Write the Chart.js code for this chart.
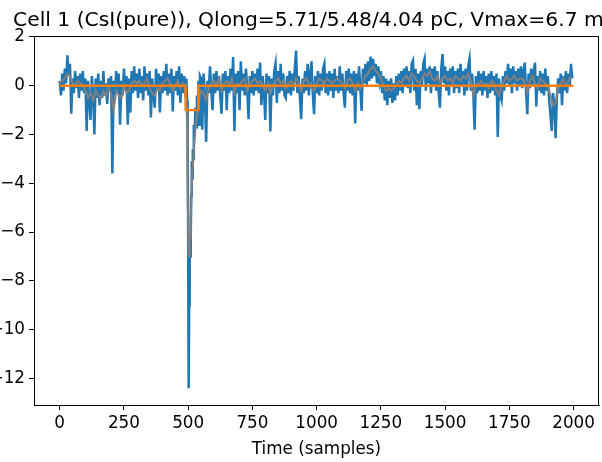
<!DOCTYPE html>
<html>
<head>
<meta charset="utf-8">
<script src="https://cdn.jsdelivr.net/npm/chart.js@4.4.1/dist/chart.umd.min.js"></script>
<style>
  html, body { margin: 0; padding: 0; background: #fff; }
  #wrap { width: 602px; height: 462px; position: relative; }
</style>
</head>
<body>
<div id="wrap"><canvas id="c" width="602" height="462"></canvas></div>
<script>
const titleText = 'Cell 1 (CsI(pure)), Qlong=5.71/5.48/4.04 pC, Vmax=6.7 mV';
const xAxisLabel = 'Time (samples)';
const xTickValues = [0, 250, 500, 750, 1000, 1250, 1500, 1750, 2000];
const yTickValues = [-12, -10, -8, -6, -4, -2, 0, 2];

// raw trace, one value every 5 samples (0 .. 1995); pulse region kept separately
const rawStep = 5;
const rawTrace = [
  0.2, -0.4, 0.5, -0.2, 0.7, 0.1, 1.25, 0.4, 0.9, -1.15,
  0.3, -0.3, 0.6, -0.1, 0.4, -0.5, 0.5, -0.2, 0.6, -0.3,
  0.3, -1.85, 0.2, -0.6, -1.4, 0.4, -0.3, -2.0, 0.3, -0.5,
  0.5, -0.8, 0.2, -0.5, 0.6, -0.4, 0.1, -0.75, 0.3, -0.2,
  0.4, -3.6, 0.2, -0.4, 0.6, -0.3, 0.5, -1.6, 0.2, -0.4,
  0.7, -0.2, 0.4, -1.6, 0.3, -1.1, 0.6, -0.3, 0.8, -0.2,
  0.5, -0.5, 0.7, -0.3, 0.4, -0.6, 0.8, -0.2, 0.5, -0.4,
  0.6, -1.3, 0.3, -0.4, -0.9, 0.7, -0.2, 0.5, -1.1, 0.4,
  -0.3, 0.6, -0.2, 0.9, -0.4, 0.5, -0.3, 0.7, -1.05, 0.4,
  -0.2, 0.6, -0.4, 0.8, -0.7, 0.5, -0.3, 0.4, -0.5, null,
  null, null, null, null, null, null, null, null, null, null,
  0.3, -1.8, 0.5, -0.4, -2.3, 0.2, -0.3, 0.8, -0.2, -1.0,
  0.5, -0.3, 0.6, -0.2, 0.4, -0.4, -1.15, 0.5, -0.2, 0.6,
  -1.0, 0.4, -0.3, 0.7, -0.2, 1.18, -1.85, 0.5, -0.3, 0.6,
  -1.0, 1.0, -0.2, 0.5, -0.4, 0.7, -0.2, -1.37, 0.4, -0.3,
  0.6, -0.4, 0.5, -0.2, 0.7, -0.3, 0.95, -0.8, 0.4, -0.2,
  -1.4, 0.5, -0.3, 0.4, -1.87, 0.3, -0.4, 0.6, 0.9, -0.7,
  0.6, -0.3, 0.9, -0.2, 0.5, -0.4, -0.5, 0.4, -0.3, 0.6,
  -0.4, 0.5, -0.2, 0.7, 1.44, -0.3, 0.4, -0.5, -1.37, 0.3,
  -0.3, 0.6, -0.2, 0.9, -0.4, 0.5, 1.0, -0.3, -1.17, 0.4,
  -0.3, 0.6, -0.4, 0.5, -0.2, 0.7, 0.9, -0.3, 0.5, -0.4,
  0.6, -0.2, 0.5, -0.5, 0.7, -0.2, 0.4, -0.3, 0.8, -0.2,
  0.5, -0.3, -0.9, 0.6, -0.2, 0.7, -0.3, 0.5, -0.4, 0.6,
  -1.55, 0.5, -0.2, 0.8, -0.1, -1.03, 0.7, 0.1, 0.9, 0.0,
  1.0, 0.2, 1.2, 0.3, 1.1, 0.4, 0.9, 0.1, 0.8, 0.2,
  0.6, -0.3, 0.4, -0.6, 0.3, -0.8, 0.2, -0.5, 0.3, -0.7,
  0.1, -0.6, 0.4, -0.4, 0.5, -0.2, 0.6, -0.3, 0.7, 0.0,
  0.8, -0.1, 0.6, -0.3, 0.9, 1.03, -0.2, 0.7, -0.8, 0.5,
  -0.96, 0.6, 0.0, 0.9, 1.1, -0.2, 0.7, 0.1, 0.8, -0.3,
  0.7, 0.0, 0.8, -0.2, 0.6, -0.3, -0.9, 0.7, 1.3, 0.1,
  0.8, -0.2, 0.6, -0.4, 0.7, 0.0, 0.8, -0.3, 0.6, -0.1,
  0.7, -0.3, 0.9, 0.0, 0.6, -0.4, 0.7, -0.2, 0.8, 1.1,
  -0.2, 0.5, -0.4, -1.8, 0.4, -0.3, 0.6, -0.2, 0.5, -0.4,
  0.6, -0.2, 0.4, -0.5, 0.5, -0.3, 0.6, -0.2, 0.4, -0.4,
  0.5, -2.1, 0.3, -0.4, -0.6, 0.4, -0.2, 0.6, 0.1, 0.9,
  0.0, 0.7, -0.3, 0.8, 0.1, 0.6, -0.2, 0.7, 0.0, 0.8,
  -0.1, 0.6, 0.95, -0.2, -1.17, 0.5, -0.1, 0.7, 0.0, 0.6,
  0.95, -0.85, 0.4, -0.2, 0.6, -0.3, 0.5, -0.4, 0.7, -0.2,
  0.4, -0.6, -1.2, -1.85, -0.3, -0.8, -2.15, -0.5, 0.3, -0.3,
  0.5, -0.8, 0.4, -0.2, 0.6, -0.3, 0.5, 0.0, 0.9, 0.3
];

// finer sampling of the raw trace across the pulse
const pulseSamples = [493, 496, 498, 500, 502, 504, 506, 508, 510, 512, 514, 516, 518, 520, 522, 525, 528, 531, 534, 537, 540, 543, 546];
const pulseTrace   = [0.3, -0.6, -1.8, -6.5, -12.4, -9.0, -6.6, -7.0, -6.2, -4.5, -3.1, -3.8, -2.6, -3.0, -1.6, -2.1, -0.9, -1.7, -0.4, -1.5, 0.2, -1.6, 0.4];

// smoothed trace, one value every 10 samples (0 .. 1990)
const smoothStep = 10;
const smoothTrace = [
  0.1, 0.2, 0.3, 0.5, 0.4, 0.1, 0.0, 0.2, 0.1, 0.0,
  -0.2, -0.5, -0.3, -0.6, -0.2, -0.4, -0.5, -0.2, -0.4, -0.1,
  -0.3, -1.0, -0.2, -0.4, -0.5, 0.0, -0.3, -0.2, 0.1, 0.2,
  0.1, 0.2, 0.0, 0.1, 0.3, -0.1, -0.3, -0.4, -0.1, -0.2,
  0.1, 0.2, 0.3, 0.1, -0.2, 0.0, 0.2, -0.1, 0.1, null,
  null, null, null, null, null, null, -0.3, -0.6, -0.1, 0.1,
  0.2, 0.0, 0.3, -0.2, 0.1, 0.2, 0.0, 0.3, -0.3, 0.1,
  0.0, 0.2, 0.3, -0.2, 0.1, 0.2, 0.3, 0.1, 0.2, 0.0,
  -0.2, 0.1, -0.3, 0.0, 0.2, 0.3, 0.1, 0.2, -0.1, 0.1,
  0.2, 0.0, 0.3, 0.1, -0.2, 0.2, 0.3, 0.1, -0.1, -0.2,
  0.1, 0.3, 0.2, 0.1, 0.3, 0.2, 0.1, 0.2, 0.3, 0.2,
  0.1, -0.1, 0.2, 0.3, 0.1, -0.2, 0.1, -0.1, 0.2, 0.4,
  0.5, 0.7, 0.8, 0.6, 0.5, 0.3, 0.0, -0.2, -0.1, -0.2,
  -0.1, 0.0, 0.2, 0.1, 0.3, 0.4, 0.2, 0.5, 0.4, 0.2,
  0.1, 0.3, 0.5, 0.4, 0.6, 0.3, 0.2, 0.4, 0.1, 0.3,
  0.4, 0.2, 0.3, 0.1, 0.4, 0.3, 0.2, 0.4, 0.3, 0.5,
  0.2, -0.4, 0.0, 0.1, 0.2, 0.0, 0.1, -0.1, 0.2, 0.1,
  -0.2, -0.4, 0.0, 0.2, 0.4, 0.2, 0.3, 0.4, 0.2, 0.3,
  0.3, 0.1, -0.3, 0.2, 0.4, 0.1, -0.1, 0.3, 0.2, 0.1,
  0.0, -0.4, -0.8, -0.7, -0.1, 0.1, 0.3, 0.0, 0.2, 0.4
];
const smoothPulseSamples = [486, 490, 493, 496, 498, 500, 502, 504, 506, 508, 510, 513, 516, 520, 524, 528, 532, 536, 540, 545, 550];
const smoothPulseTrace   = [0.0, -0.2, -0.6, -1.6, -4.0, -6.0, -6.9, -7.0, -6.6, -6.2, -5.5, -4.4, -3.6, -3.0, -2.4, -1.8, -1.4, -1.1, -0.8, -0.5, -0.2];

// baseline step fit
const fitSamples = [0, 489, 490, 539, 540, 1999];
const fitLevels  = [0, 0, -1, -1, 0, 0];

function mergeTrace(values, step, detailX, detailY) {
  const lo = detailX[0], hi = detailX[detailX.length - 1];
  const pts = [];
  values.forEach((v, i) => {
    const x = i * step;
    if (v !== null && (x < lo || x > hi)) pts.push({ x: x, y: v });
  });
  detailX.forEach((x, i) => pts.push({ x: x, y: detailY[i] }));
  pts.sort((a, b) => a.x - b.x);
  return pts;
}

const rawPoints = mergeTrace(rawTrace, rawStep, pulseSamples, pulseTrace);
const smoothPoints = mergeTrace(smoothTrace, smoothStep, smoothPulseSamples, smoothPulseTrace);
const fitPoints = fitSamples.map((x, i) => ({ x: x, y: fitLevels[i] }));

const FONT = 'DejaVu Sans';
const TICK_SIZE = 16.8;

const framePlugin = {
  id: 'frame',
  afterDraw(chart) {
    const { ctx, chartArea: a } = chart;
    ctx.save();
    ctx.strokeStyle = '#000';
    ctx.lineWidth = 1;
    ctx.strokeRect(Math.round(a.left) + 0.5, Math.round(a.top) + 0.5,
                   Math.round(a.right - a.left) - 1, Math.round(a.bottom - a.top));
    // title
    ctx.fillStyle = '#000';
    ctx.font = '20.3px "' + FONT + '"';
    ctx.textAlign = 'left';
    ctx.textBaseline = 'alphabetic';
    ctx.fillText(titleText, 13, 26);
    ctx.restore();
  }
};

new Chart(document.getElementById('c'), {
  type: 'line',
  data: {
    datasets: [
      { data: rawPoints, order: 3, borderColor: '#1f77b4', borderWidth: 2.5, pointRadius: 0, tension: 0 },
      { data: smoothPoints, order: 2, borderColor: '#808080', borderWidth: 2, pointRadius: 0, tension: 0 },
      { data: fitPoints, order: 1, borderColor: '#ff7f0e', borderWidth: 2.3, pointRadius: 0, tension: 0 }
    ]
  },
  options: {
    responsive: false,
    animation: false,
    events: [],
    layout: { padding: { top: 36, right: 3, left: 0, bottom: 0 } },
    plugins: { legend: { display: false }, title: { display: false }, tooltip: { enabled: false } },
    scales: {
      x: {
        type: 'linear',
        min: -100,
        max: 2099,
        afterFit(s) { s.height = 57; },
        afterBuildTicks(s) { s.ticks = xTickValues.map(v => ({ value: v })); },
        grid: { drawOnChartArea: false, drawTicks: true, tickLength: 5, color: '#000', lineWidth: 1 },
        border: { display: true, color: '#000', width: 1 },
        ticks: { color: '#000', padding: 4, maxRotation: 0, autoSkip: false, font: { family: FONT, size: TICK_SIZE },
                 callback: v => String(v) },
        title: { display: true, text: xAxisLabel, color: '#000', font: { family: FONT, size: TICK_SIZE }, padding: { top: 2, bottom: 2 } }
      },
      y: {
        type: 'linear',
        min: -13.09,
        max: 2.04,
        afterFit(s) { s.width = 34; },
        afterBuildTicks(s) { s.ticks = yTickValues.map(v => ({ value: v })); },
        grid: { drawOnChartArea: false, drawTicks: true, tickLength: 5, color: '#000', lineWidth: 1 },
        border: { display: true, color: '#000', width: 1 },
        ticks: { color: '#000', padding: 4, autoSkip: false, font: { family: FONT, size: TICK_SIZE },
                 callback: v => (v < 0 ? '\u2212' + Math.abs(v) : String(v)) }
      }
    }
  },
  plugins: [framePlugin]
});
</script>
</body>
</html>
